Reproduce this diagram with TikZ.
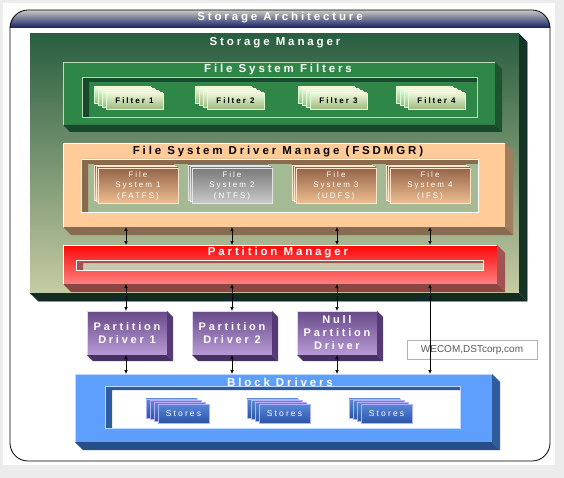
\documentclass[tikz,border=0pt]{standalone}
\usepackage{fontspec}
\setsansfont{Liberation Sans}
\newfontfamily\archfont[LetterSpace=25]{Liberation Sans}
\usetikzlibrary{arrows.meta,calc}

\definecolor{barTop}{HTML}{C8CDC3}
\definecolor{barMid}{HTML}{2A3CA6}
\definecolor{barBot}{HTML}{141C64}
\definecolor{smTop}{HTML}{2A5E40}
\definecolor{smBot}{HTML}{C6CBA3}
\definecolor{smSide}{HTML}{163424}
\definecolor{fsfFace}{HTML}{2E8747}
\definecolor{fsfSide}{HTML}{1B5530}
\definecolor{fsfWall}{HTML}{17492A}
\definecolor{fsfLine}{HTML}{B8DDB8}
\definecolor{fltTop}{HTML}{EEF6DA}
\definecolor{fltBot}{HTML}{9CBC7E}
\definecolor{fsdFace}{HTML}{FFCC99}
\definecolor{fsdSide}{HTML}{A07E5E}
\definecolor{fsdInner}{HTML}{A4BA94}
\definecolor{fsdWall}{HTML}{8A6A4C}
\definecolor{fsTop}{HTML}{946448}
\definecolor{fsBot}{HTML}{EDBE90}
\definecolor{fsgTop}{HTML}{7A7A7A}
\definecolor{fsgBot}{HTML}{C8C8C8}
\definecolor{pmTop}{HTML}{FF0808}
\definecolor{pmBot}{HTML}{FF8080}
\definecolor{pmSide}{HTML}{A35252}
\definecolor{pmSlot}{HTML}{C9C9A9}
\definecolor{pdTop}{HTML}{674A88}
\definecolor{pdBot}{HTML}{B89AD6}
\definecolor{pdSide}{HTML}{553A75}
\definecolor{bdFace}{HTML}{5E9EFC}
\definecolor{bdSide}{HTML}{2F5C9C}
\definecolor{stTop}{HTML}{5A88D8}
\definecolor{stBot}{HTML}{2A54A8}

\tikzset{
  face/.style={inner sep=0pt, outer sep=0pt, anchor=north west},
  ttl/.style={text=white, inner sep=0pt, font=\archfont\bfseries\fontsize{11.5}{12}\selectfont},
  fltcard/.style={draw=white!85!green, line width=0.5pt, top color=fltTop, bottom color=fltBot},
  fscard/.style={draw=white!80!orange, line width=0.5pt, top color=fsTop, bottom color=fsBot},
  fsgrey/.style={draw=white!80!gray, line width=0.5pt, top color=fsgTop, bottom color=fsgBot},
  stcard/.style={draw=white!70!blue, line width=0.5pt, top color=stTop, bottom color=stBot},
  conn/.style={black, line width=0.6pt, {Latex[length=4pt,width=3.5pt]}-{Latex[length=4pt,width=3.5pt]}},
}

% right and bottom walls of a raised box
\newcommand\sidewall[3]{%
  \fill[#3] (#1.north east) -- ++(#2,#2) -- ($(#1.south east)+(#2,#2)$) -- (#1.south east) -- cycle;
  \fill[#3!85!black] (#1.south west) -- ++(#2,#2) -- ($(#1.south east)+(#2,#2)$) -- (#1.south east) -- cycle;}
% sunken panel: x1,y1,x2,y2, fill, wall, line, strip
\newcommand\recess[8]{%
  \fill[#5] (#1,#2) rectangle (#3,#4);
  \fill[#6] (#1,#2) -- (#3,#2) -- (#3,#2+#8) -- (#1+7,#2+#8) -- (#1+7,#4) -- (#1,#4) -- cycle;
  \draw[#7, line width=0.6pt] (#1,#2) rectangle (#3,#4);}

\begin{document}
\begin{tikzpicture}[x=1pt,y=-1pt]
\useasboundingbox (0,0) rectangle (564,478);
\fill[gray!15] (0,0) rectangle (564,478);
\fill[white] (3,3) rectangle (555,465);
\begin{scope}
  \clip[rounded corners=18pt] (10,10) rectangle (550,461);
  \shade[top color=barTop, middle color=barMid, bottom color=barBot] (10,10) rectangle (550,28);
\end{scope}
\draw[black, line width=0.8pt, rounded corners=18pt] (10,10) rectangle (550,461);
\node[ttl] (arch) at (280,18) {Storage Architecture};

% storage manager
\node[face, minimum width=489pt, minimum height=259pt, top color=smTop, bottom color=smBot] (sm) at (30,34) {};
\sidewall{sm}{8}{smSide}
\draw[blue!40!black, line width=0.5pt] (sm.north east) -- ++(8,8) -- ($(sm.south east)+(8,8)$) -- ($(sm.south west)+(8,8)$);
\node[ttl] (smlbl) at (275,43) {Storage Manager};

% file system filters
\node[face, minimum width=432pt, minimum height=63pt, fill=fsfFace, draw=fsfLine, line width=0.6pt] (fsf) at (63,62) {};
\sidewall{fsf}{7}{fsfSide}
\node[ttl] (fsflbl) at (278,70) {File System Filters};
\recess{82}{77}{477}{117}{fsfFace}{fsfWall}{fsfLine}{5}
\foreach \n/\x in {1/106,2/207,3/310,4/408}{
  \foreach \k in {3,2,1}
    \draw[fltcard] (\x-4*\k,93-2*\k) rectangle ++(57,16);
  \node[face, fltcard, minimum width=57pt, minimum height=16pt, font=\archfont\bfseries\fontsize{8}{8}\selectfont] (flt\n) at (\x,93) {Filter \n};
}

% file system driver manager
\node[face, minimum width=442pt, minimum height=84pt, fill=fsdFace, draw=white, line width=0.6pt] (fsd) at (63,143) {};
\sidewall{fsd}{8}{fsdSide}
\node[ttl, text=black] (fsdlbl) at (278,152) {File System Driver Manage (FSDMGR)};
\recess{81}{159}{478}{212}{fsdInner}{fsdWall}{white}{5}
\foreach \n/\x/\f/\s in {1/98/FATFS/fscard,2/192/NTFS/fsgrey,3/296/UDFS/fscard,4/390/IFS/fscard}{
  \foreach \k in {2,1}
    \draw[\s] (\x-2*\k,168-1.5*\k) rectangle ++(80,35);
  \node[face, \s, minimum width=80pt, minimum height=35pt, text=white, align=center,
        font=\archfont\fontsize{8}{10.5}\selectfont] (fs\n) at (\x,168) {File\\System \n\\(\f)};
}

% partition manager
\node[face, minimum width=434pt, minimum height=39pt, top color=pmTop, bottom color=pmBot, draw=white, line width=0.6pt] (pm) at (63,245) {};
\sidewall{pm}{8}{pmSide}
\node[ttl] (pmlbl) at (278,253) {Partition Manager};
\recess{76}{260}{483}{270}{pmSlot}{pmSide}{white}{3}

% partition drivers
\foreach \n/\x/\t in {1/87/{Partition\\Driver 1},2/192/{Partition\\Driver 2},3/297/{Null\\Partition\\Driver}}{
  \node[face, minimum width=80pt, minimum height=44pt, top color=pdTop, bottom color=pdBot, draw=white!60!pdBot, line width=0.5pt] (pd\n) at (\x,311) {};
  \sidewall{pd\n}{6}{pdSide}
  \node[ttl, align=center, font=\archfont\bfseries\fontsize{11}{13}\selectfont] (pdlbl\n) at (pd\n.center) {\t};
}

% block drivers
\node[face, minimum width=417pt, minimum height=68pt, fill=bdFace, draw=white!60!bdFace, line width=0.6pt] (bd) at (75,374) {};
\sidewall{bd}{8}{bdSide}
\node[ttl] (bdlbl) at (280,382) {Block Drivers};
\recess{105}{386}{460}{428}{white}{bdSide}{white!60!bdFace}{4}
\foreach \n/\x in {1/158,2/259,3/361}{
  \foreach \k in {3,2,1}
    \draw[stcard] (\x-4*\k,404-1.7*\k) rectangle ++(51,19);
  \node[face, stcard, minimum width=51pt, minimum height=19pt, text=white, font=\archfont\fontsize{8.5}{9}\selectfont] (st\n) at (\x,404) {Stores};
}

\node[draw=gray!60, fill=white, minimum width=130pt, minimum height=19pt, inner sep=0pt,
      font=\sffamily\fontsize{10}{10}\selectfont, text=gray!70!black] (wecom) at (472,350) {WECOM,DSTcorp,com};

% connectors
\foreach \x [count=\i] in {126,232,337,430}
  \coordinate (ax\i) at (\x,0);
\foreach \i in {1,...,4}
  \draw[conn] (ax\i |- fsd.south) -- (ax\i |- pm.north);
\foreach \i in {1,2,3}{
  \draw[conn] (ax\i |- pm.south) -- (ax\i |- pd\i.north);
  \draw[conn] (ax\i |- pd\i.south) -- (ax\i |- bd.north);
}
\draw[conn] (ax4 |- pm.south) -- (ax4 |- bd.north);
\end{tikzpicture}
\end{document}
